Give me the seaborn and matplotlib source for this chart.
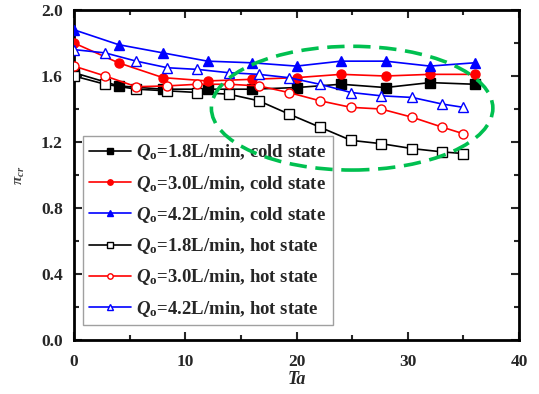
import matplotlib
matplotlib.use("Agg")
import matplotlib.pyplot as plt
from matplotlib.patches import Ellipse
from matplotlib.ticker import MultipleLocator, FormatStrFormatter
import seaborn as sns
import pandas as pd

# Taylor number sampling for the two operating states
ta_cold = [0, 4, 8, 12, 16, 20, 24, 28, 32, 36]
ta_hot = [0, 2.8, 5.6, 8.4, 11.1, 13.9, 16.6, 19.3, 22.1, 24.9, 27.6, 30.4, 33.1, 35.0]

# Critical pressure ratio, cold state
cold_18 = [1.62, 1.54, 1.52, 1.52, 1.52, 1.53, 1.55, 1.53, 1.56, 1.55]
cold_30 = [1.80, 1.68, 1.59, 1.57, 1.58, 1.59, 1.61, 1.60, 1.61, 1.61]
cold_42 = [1.88, 1.79, 1.74, 1.69, 1.68, 1.66, 1.69, 1.69, 1.66, 1.68]

# Critical pressure ratio, hot state
hot_18 = [1.60, 1.55, 1.52, 1.51, 1.50, 1.49, 1.45, 1.37, 1.29, 1.21, 1.19, 1.16, 1.14, 1.13]
hot_30 = [1.66, 1.60, 1.535, 1.54, 1.55, 1.55, 1.54, 1.50, 1.45, 1.41, 1.40, 1.35, 1.29, 1.25]
hot_42 = [1.76, 1.74, 1.69, 1.65, 1.64, 1.62, 1.61, 1.59, 1.55, 1.50, 1.48, 1.47, 1.43, 1.41]

labels = [
    r"$Q_{\mathrm{o}}$=1.8L/min, cold state",
    r"$Q_{\mathrm{o}}$=3.0L/min, cold state",
    r"$Q_{\mathrm{o}}$=4.2L/min, cold state",
    r"$Q_{\mathrm{o}}$=1.8L/min, hot state",
    r"$Q_{\mathrm{o}}$=3.0L/min, hot state",
    r"$Q_{\mathrm{o}}$=4.2L/min, hot state",
]

sns.set_style("ticks")
plt.rcParams.update({
    "font.family": ["Liberation Serif", "DejaVu Serif"],
    "font.weight": "bold",
    "mathtext.fontset": "custom",
    "mathtext.rm": "Liberation Serif:bold",
    "mathtext.it": "Liberation Serif:italic:bold",
    "mathtext.bf": "Liberation Serif:bold",
})

fig = plt.figure(figsize=(5.39, 3.94), dpi=100)
ax = fig.add_axes([74 / 539, 1 - 340 / 394, 445 / 539, 330 / 394])

series = [
    (ta_cold, cold_18, "black", "s", "black"),
    (ta_cold, cold_30, "red", "o", "red"),
    (ta_cold, cold_42, "blue", "^", "blue"),
    (ta_hot, hot_18, "black", "s", "white"),
    (ta_hot, hot_30, "red", "o", "white"),
    (ta_hot, hot_42, "blue", "^", "white"),
]

for (x, y, col, mk, face), lab in zip(series, labels):
    df = pd.DataFrame({"Ta": x, "pi": y})
    sns.lineplot(data=df, x="Ta", y="pi", ax=ax, color=col, marker=mk,
                 markerfacecolor=face, markeredgecolor=col, markeredgewidth=1.0,
                 markersize=6.5, linewidth=1.2, label=lab, zorder=3)

ax.set_xlim(0, 40)
ax.set_ylim(0.0, 2.0)
ax.xaxis.set_major_locator(MultipleLocator(10))
ax.xaxis.set_minor_locator(MultipleLocator(5))
ax.yaxis.set_major_locator(MultipleLocator(0.4))
ax.yaxis.set_minor_locator(MultipleLocator(0.2))
ax.yaxis.set_major_formatter(FormatStrFormatter("%.1f"))
ax.tick_params(which="both", direction="in", top=True, right=True, width=1.5,
               labelsize=12.5)
ax.tick_params(axis="x", pad=10)
ax.tick_params(axis="y", pad=8)
ax.tick_params(which="major", length=6)
ax.tick_params(which="minor", length=3.5)
for s in ax.spines.values():
    s.set_linewidth(2.0)
    s.set_color("black")

ax.set_xlabel("Ta", fontsize=13, fontstyle="italic", fontweight="bold", labelpad=1)
ax.set_ylabel(r"$\pi_{cr}$", fontsize=11, color="#444444", labelpad=10)

leg = ax.legend(loc="lower left", bbox_to_anchor=(0.02, 0.045), borderaxespad=0,
                frameon=True, fancybox=False, edgecolor="#888888",
                handlelength=2.2, handletextpad=0.3, labelspacing=0.6,
                borderpad=0.35, markerscale=0.6,
                prop={"family": "Liberation Serif", "weight": "bold", "size": 13.5})
leg.get_frame().set_linewidth(1.0)
leg.set_zorder(5)

# dashed highlight of the diverging hot-state region, drawn above the legend
ell = Ellipse((25.0, 1.405), 25.3, 0.75, fill=False, edgecolor="#00C050",
              linewidth=2.6, linestyle=(0, (4.8, 2.4)), zorder=6)
ax.add_patch(ell)

fig.savefig("out.png", dpi=100)
